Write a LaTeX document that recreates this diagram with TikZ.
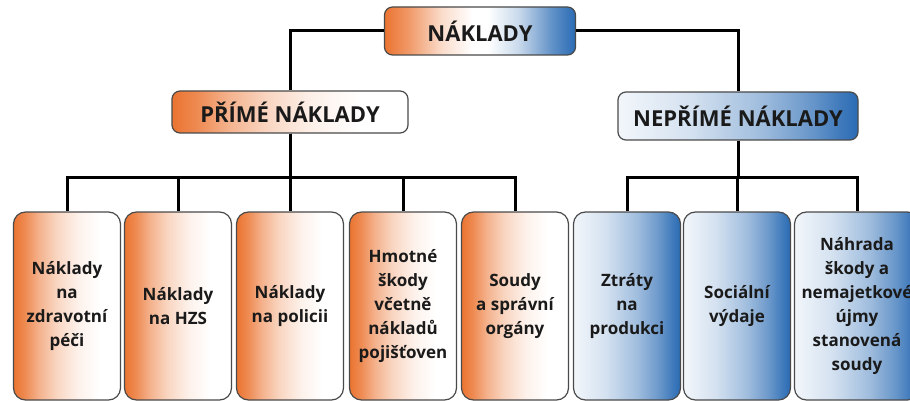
\documentclass[tikz,border=0pt]{standalone}
\usepackage{fontspec}
\setmainfont{Open Sans}
\usepackage{tikz}
\usepackage{xcolor}
\usetikzlibrary{positioning, calc}
\definecolor{Ember}{HTML}{EB7431}
\definecolor{Steel}{HTML}{2A6BB4}
\definecolor{Frame}{HTML}{4A4A4A}
\definecolor{Ink}{HTML}{1A1A1A}
\pgfdeclarehorizontalshading{warmfade}{100bp}{color(0bp)=(Ember); color(25bp)=(Ember);
  color(30bp)=(Ember!85); color(37bp)=(Ember!55); color(45bp)=(Ember!30);
  color(55bp)=(Ember!10); color(65bp)=(white); color(100bp)=(white)}
\pgfdeclarehorizontalshading{coolfade}{100bp}{color(0bp)=(Steel!6); color(25bp)=(Steel!6);
  color(40bp)=(Steel!20); color(55bp)=(Steel!45); color(65bp)=(Steel!70);
  color(72bp)=(Steel!92); color(75bp)=(Steel); color(100bp)=(Steel)}
\pgfdeclarehorizontalshading{bothfade}{100bp}{color(0bp)=(Ember); color(25bp)=(Ember);
  color(31bp)=(Ember!75); color(40bp)=(Ember!25); color(48bp)=(white); color(52bp)=(white);
  color(60bp)=(Steel!25); color(69bp)=(Steel!75); color(75bp)=(Steel); color(100bp)=(Steel)}
\tikzset{
  link/.style={line width=3pt, black},
  head/.style={draw=Frame, line width=1.2pt, rounded corners=8pt, inner sep=0pt,
               text=Ink, font=\fontsize{22}{26}\selectfont\bfseries},
  leaf/.style={draw=Frame, line width=1.2pt, rounded corners=12pt, inner sep=0pt,
               minimum width=107pt, minimum height=188pt, align=center,
               text=Ink, font=\fontsize{17}{24}\selectfont\bfseries},
  warm/.style={shading=warmfade},
  cool/.style={shading=coolfade}
}

\begin{document}
\begin{tikzpicture}[x=1pt, y=-1pt]
    \useasboundingbox (0,0) rectangle (910,401);
    \clip (0,0) rectangle (910,401);

    % Levels
    \node[head, shading=bothfade, minimum width=191pt, minimum height=48pt]
        (costs) at (480,31) {NÁKLADY};
    \node[head, warm, minimum width=236pt, minimum height=42pt]
        (direct) at (290,112) {PŘÍMÉ NÁKLADY};
    \node[head, cool, minimum width=240pt, minimum height=48pt]
        (indirect) at (738,116) {NEPŘÍMÉ NÁKLADY};

    % Items
    \node[leaf, warm] (health) at (67,306) {Náklady\\na\\zdravotní\\péči};
    \node[leaf, warm] (hzs) at (178,306) {Náklady\\na HZS};
    \node[leaf, warm] (police) at (290,306) {Náklady\\na policii};
    \node[leaf, warm] (damage) at (403,306) {Hmotné\\škody\\včetně\\nákladů\\pojišťoven};
    \node[leaf, warm] (courts) at (515,306) {Soudy\\a správní\\orgány};
    \node[leaf, cool] (output) at (627,306) {Ztráty\\na\\produkci};
    \node[leaf, cool] (social) at (737,306) {Sociální\\výdaje};
    \node[leaf, cool, minimum width=125pt] (redress) at (857,306)
        {Náhrada\\škody a\\nemajetkové\\újmy\\stanovená\\soudy};

    % Lines
    \coordinate (dbar) at (290,177);
    \coordinate (ibar) at (738,177);
    \draw[link] (costs.west) -| (direct.north);
    \draw[link] (costs.east) -| (indirect.north);
    \foreach \n in {health, hzs, police, damage, courts}
        \draw[link] (direct.south) -- (dbar) -| (\n.north);
    \foreach \n in {output, social, redress}
        \draw[link] (indirect.south) -- (ibar) -| (\n.north);
\end{tikzpicture}
\end{document}
